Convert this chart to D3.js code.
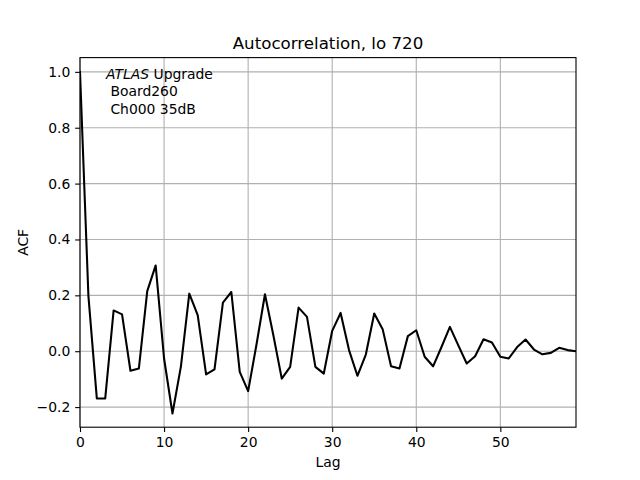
<!DOCTYPE html>
<html>
<head>
<meta charset="utf-8">
<script src="https://cdn.jsdelivr.net/npm/d3@7"></script>
<style>
  html, body { margin: 0; padding: 0; background: #fff; }
  svg { display: block; font-family: "DejaVu Sans", sans-serif; }
</style>
</head>
<body>
<svg id="chart" width="640" height="480"></svg>
<script>
// ---- data ----
const lags = d3.range(0, 60);
const acf = [
  1.000, 0.198, -0.169, -0.169, 0.146, 0.132, -0.070, -0.062, 0.215, 0.307,
  -0.026, -0.223, -0.055, 0.206, 0.129, -0.083, -0.065, 0.174, 0.212, -0.074,
  -0.143, 0.025, 0.204, 0.057, -0.098, -0.056, 0.156, 0.123, -0.056, -0.080,
  0.073, 0.137, 0.004, -0.088, -0.012, 0.135, 0.079, -0.054, -0.062, 0.054,
  0.075, -0.020, -0.054, 0.015, 0.087, 0.021, -0.044, -0.018, 0.043, 0.031,
  -0.020, -0.026, 0.015, 0.042, 0.006, -0.011, -0.006, 0.012, 0.004, 0.000
];
const xTicks = [0, 10, 20, 30, 40, 50];
const yTicks = [-0.2, 0.0, 0.2, 0.4, 0.6, 0.8, 1.0];
const titleText = "Autocorrelation, lo 720";
const xLabel = "Lag";
const yLabel = "ACF";
const annotation = [["ATLAS", " Upgrade"], ["", " Board260"], ["", " Ch000 35dB"]];

// ---- layout ----
const svg = d3.select("#chart");
const L = 80, R = 576, T = 57.6, B = 427.2;
const x = d3.scaleLinear().domain([0, 59]).range([L, R]);
const y = d3.scaleLinear().domain([-0.272, 1.051]).range([B, T]);
const fmt = v => (v < 0 ? "\u2212" : "") + Math.abs(v).toFixed(1);

// grid
const g = svg.append("g");
g.selectAll(".vg").data(xTicks).enter().append("line")
  .attr("x1", d => x(d)).attr("x2", d => x(d))
  .attr("y1", T).attr("y2", B)
  .attr("stroke", "#b0b0b0").attr("stroke-width", 1.1);
g.selectAll(".hg").data(yTicks).enter().append("line")
  .attr("x1", L).attr("x2", R)
  .attr("y1", d => y(d)).attr("y2", d => y(d))
  .attr("stroke", "#b0b0b0").attr("stroke-width", 1.1);

// clip
svg.append("clipPath").attr("id", "clip").append("rect")
  .attr("x", L).attr("y", T).attr("width", R - L).attr("height", B - T);

// line
const line = d3.line().x((d, i) => x(lags[i])).y(d => y(d));
svg.append("path").datum(acf)
  .attr("clip-path", "url(#clip)")
  .attr("d", line)
  .attr("fill", "none").attr("stroke", "#000").attr("stroke-width", 2.08)
  .attr("stroke-linejoin", "round").attr("stroke-linecap", "square");

// axes
const xAxis = d3.axisBottom(x).tickValues(xTicks).tickFormat(d3.format("d"))
  .tickSize(4.86).tickPadding(4.86);
const yAxis = d3.axisLeft(y).tickValues(yTicks).tickFormat(fmt)
  .tickSize(4.86).tickPadding(4.86);
const gx = svg.append("g").attr("transform", `translate(0,${B})`).call(xAxis);
const gy = svg.append("g").attr("transform", `translate(${L},0)`).call(yAxis);
[gx, gy].forEach(a => {
  a.select(".domain").remove();
  a.selectAll("line").attr("stroke", "#000").attr("stroke-width", 1.1);
  a.selectAll("text").attr("font-family", "DejaVu Sans").attr("font-size", 13.9).attr("fill", "#000");
});

// frame
svg.append("rect").attr("x", L).attr("y", T).attr("width", R - L).attr("height", B - T)
  .attr("fill", "none").attr("stroke", "#000").attr("stroke-width", 1.1);

// title & labels
svg.append("text").attr("x", (L + R) / 2).attr("y", 49).attr("text-anchor", "middle")
  .attr("font-size", 16.67).attr("fill", "#000").text(titleText);
svg.append("text").attr("x", (L + R) / 2).attr("y", 467).attr("text-anchor", "middle")
  .attr("font-size", 13.9).attr("fill", "#000").text(xLabel);
svg.append("text").attr("transform", `translate(28,${(T + B) / 2}) rotate(-90)`)
  .attr("text-anchor", "middle").attr("font-size", 13.9).attr("fill", "#000").text(yLabel);

// annotation
const ann = svg.append("text").attr("font-size", 13.9).attr("fill", "#000");
annotation.forEach((row, i) => {
  const t = svg.append("text").attr("x", 106).attr("y", 79 + i * 17.3)
    .attr("font-size", 13.9).attr("fill", "#000").attr("xml:space", "preserve")
    .style("white-space", "pre");
  if (row[0]) t.append("tspan").attr("font-style", "italic").text(row[0]);
  t.append("tspan").text(row[1]);
});
</script>
</body>
</html>
